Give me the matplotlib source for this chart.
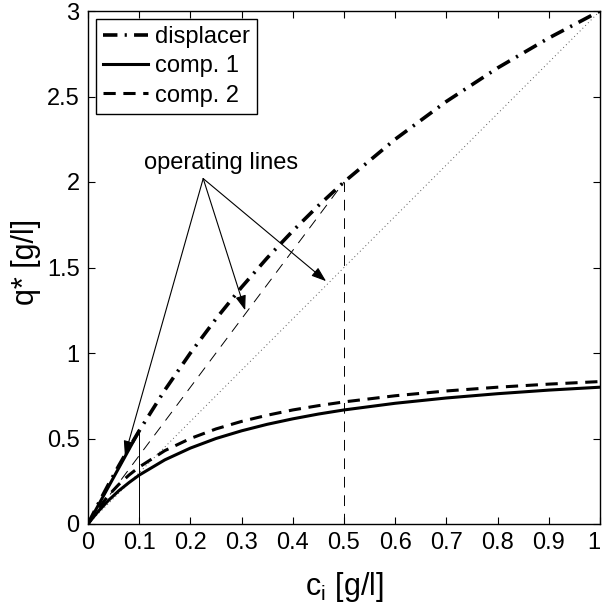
import matplotlib
matplotlib.use("Agg")
import matplotlib.pyplot as plt

plt.rcParams['font.family'] = ['Liberation Sans', 'DejaVu Sans']
plt.rcParams['mathtext.fontset'] = 'custom'
plt.rcParams['mathtext.rm'] = 'Liberation Sans'
plt.rcParams['mathtext.it'] = 'Liberation Sans:italic'

# concentration grid [g/l]
c = [0, 0.01, 0.02, 0.04, 0.06, 0.08, 0.1, 0.15, 0.2, 0.25, 0.3, 0.35, 0.4,
     0.45, 0.5, 0.6, 0.7, 0.8, 0.9, 1.0]
q_displacer = [0, 0.059, 0.118, 0.231, 0.340, 0.444, 0.545, 0.783, 1.0, 1.2,
               1.385, 1.556, 1.714, 1.862, 2.0, 2.25, 2.471, 2.667, 2.842, 3.0]
q_comp1 = [0, 0.038, 0.074, 0.138, 0.194, 0.242, 0.286, 0.375, 0.444, 0.5,
           0.545, 0.583, 0.615, 0.643, 0.667, 0.706, 0.737, 0.762, 0.783, 0.8]
q_comp2 = [0, 0.048, 0.091, 0.167, 0.231, 0.286, 0.333, 0.429, 0.5, 0.556,
           0.6, 0.636, 0.667, 0.692, 0.714, 0.75, 0.778, 0.8, 0.818, 0.833]

# operating line end points (feed concentration, loading)
op_c = [0.1, 0.5, 1.0]
op_q = [0.545, 2.0, 3.0]

# annotation
label_text = "operating lines"
label_pos = (0.26, 2.11)
arrow_tail = (0.225, 2.02)
arrow_tips = [(0.072, 0.40), (0.307, 1.25), (0.465, 1.42)]

xticks = [0, 0.1, 0.2, 0.3, 0.4, 0.5, 0.6, 0.7, 0.8, 0.9, 1]
xticklabels = ['0', '0.1', '0.2', '0.3', '0.4', '0.5', '0.6', '0.7', '0.8', '0.9', '1']
yticks = [0, 0.5, 1, 1.5, 2, 2.5, 3]
yticklabels = ['0', '0.5', '1', '1.5', '2', '2.5', '3']

fig = plt.figure(figsize=(6.03, 6.12), dpi=100)
ax = fig.add_axes([88/603, (612-524)/612, (600-88)/603, (524-11)/612])

# operating lines
ax.plot([0, op_c[0]], [0, op_q[0]], color='k', lw=2.2, solid_capstyle='butt')
ax.plot([0, op_c[1]], [0, op_q[1]], color='k', lw=0.7, linestyle=(0, (11, 8)))
ax.plot([0, op_c[2]], [0, op_q[2]], color='#555555', lw=0.7, linestyle=(0, (1, 3)))
# vertical markers
ax.plot([op_c[0], op_c[0]], [0, op_q[0]], color='k', lw=0.7)
ax.plot([op_c[1], op_c[1]], [0, op_q[1]], color='k', lw=0.7, linestyle=(0, (11, 8)))

# isotherms
ax.plot(c, q_displacer, color='k', lw=2.6, linestyle=(0, (4, 2, 0.6, 2)), label='displacer')
ax.plot(c, q_comp1, color='k', lw=2.2, label='comp. 1')
ax.plot(c, q_comp2, color='k', lw=2.2, linestyle=(0, (4, 2.5)), label='comp. 2')

ax.text(label_pos[0], label_pos[1], label_text, fontsize=17, ha='center', va='center')
for tip in arrow_tips:
    ax.annotate('', xy=tip, xytext=arrow_tail,
                arrowprops=dict(arrowstyle='-|>,head_length=0.9,head_width=0.32',
                                color='k', lw=0.8, shrinkA=0, shrinkB=0))

ax.set_xlim(0, 1)
ax.set_ylim(0, 3)
ax.set_xticks(xticks)
ax.set_xticklabels(xticklabels)
ax.set_yticks(yticks)
ax.set_yticklabels(yticklabels)
ax.tick_params(direction='in', top=True, right=True, length=5, width=0.8,
               labelsize=17, pad=6)
ax.get_xticklabels()[-1].set_horizontalalignment('right')
for s in ax.spines.values():
    s.set_linewidth(1.0)

ax.set_xlabel(r'$\mathregular{c_i}$ [g/l]', fontsize=22, labelpad=11)
ax.set_ylabel('q* [g/l]', fontsize=22)
ax.yaxis.set_label_coords(-0.092, 0.51)

leg = ax.legend(loc='upper left', fontsize=17, handlelength=1.9, handletextpad=0.3,
                labelspacing=0.3, borderpad=0.3, borderaxespad=0.35,
                fancybox=False, framealpha=1, edgecolor='k')
leg.get_frame().set_linewidth(1.0)

fig.savefig('out.png', dpi=100)
